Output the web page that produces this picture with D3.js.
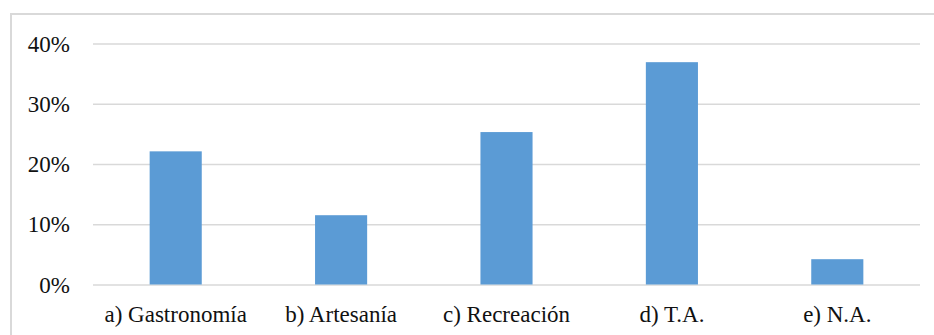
<!DOCTYPE html>
<html>
<head>
<meta charset="utf-8">
<script src="https://cdn.jsdelivr.net/npm/d3@7"></script>
<style>
  body { margin: 0; background: #fff; }
  .grid line { stroke: #d9d9d9; stroke-width: 1.3; }
  .grid .domain { display: none; }
  .x--axis .domain, .x--axis line, .y--axis .domain, .y--axis line { display: none; }
  .bar { fill: #5b9bd5; }
</style>
</head>
<body>
<svg id="chart" width="934" height="335"></svg>
<script>
const categories = ["a) Gastronomía", "b) Artesanía", "c) Recreación", "d) T.A.", "e) N.A."];
const percents = [0.221, 0.115, 0.253, 0.369, 0.042];
const yTicks = [0, 0.1, 0.2, 0.3, 0.4];

var svg = d3.select("svg#chart"),
    plot = {left: 93, right: 920, top: 43.5, bottom: 284.5},
    serif = "\"Liberation Serif\", \"Times New Roman\", serif",
    fontSize = "23px";

// chart area border (runs off the right and bottom edges)
svg.append("rect")
  .attr("x", 11)
  .attr("y", 14)
  .attr("width", 940)
  .attr("height", 340)
  .attr("fill", "none")
  .attr("stroke", "#d9d9d9")
  .attr("stroke-width", 2);

// SCALES
var xScale = d3.scaleBand()
  .domain(categories)
  .range([plot.left, plot.right])
  .paddingInner(0.685)
  .paddingOuter(0.3425);

var yScale = d3.scaleLinear()
  .domain([0, 0.4])
  .range([plot.bottom, plot.top]);

// GRID
svg.append("g")
  .attr("class", "grid")
  .attr("transform", `translate(${plot.left},0)`)
  .call(d3.axisRight(yScale).tickValues(yTicks).tickSize(plot.right - plot.left).tickFormat(""));

// AXES
var yAxisG = svg.append("g")
  .attr("class", "y--axis")
  .attr("transform", `translate(${plot.left - 23},0)`)
  .call(d3.axisLeft(yScale).tickValues(yTicks).tickSize(0).tickPadding(0).tickFormat(d3.format(".0%")));

yAxisG.selectAll("text")
  .style("font-family", serif)
  .style("font-size", fontSize)
  .attr("fill", "#111")
  .attr("dy", "0.33em");

var xAxisG = svg.append("g")
  .attr("class", "x--axis")
  .attr("transform", `translate(0,${plot.bottom})`)
  .call(d3.axisBottom(xScale).tickSize(0).tickPadding(0));

xAxisG.selectAll("text")
  .style("font-family", serif)
  .style("font-size", fontSize)
  .attr("fill", "#111")
  .attr("dy", null)
  .attr("y", 37.5);

// BARS
svg.append("g")
  .selectAll(".bar")
  .data(percents)
  .enter()
    .append("rect")
      .attr("class", "bar")
      .attr("x", (d, i) => xScale(categories[i]))
      .attr("y", (d) => yScale(d))
      .attr("width", xScale.bandwidth())
      .attr("height", (d) => yScale(0) - yScale(d));
</script>
</body>
</html>
